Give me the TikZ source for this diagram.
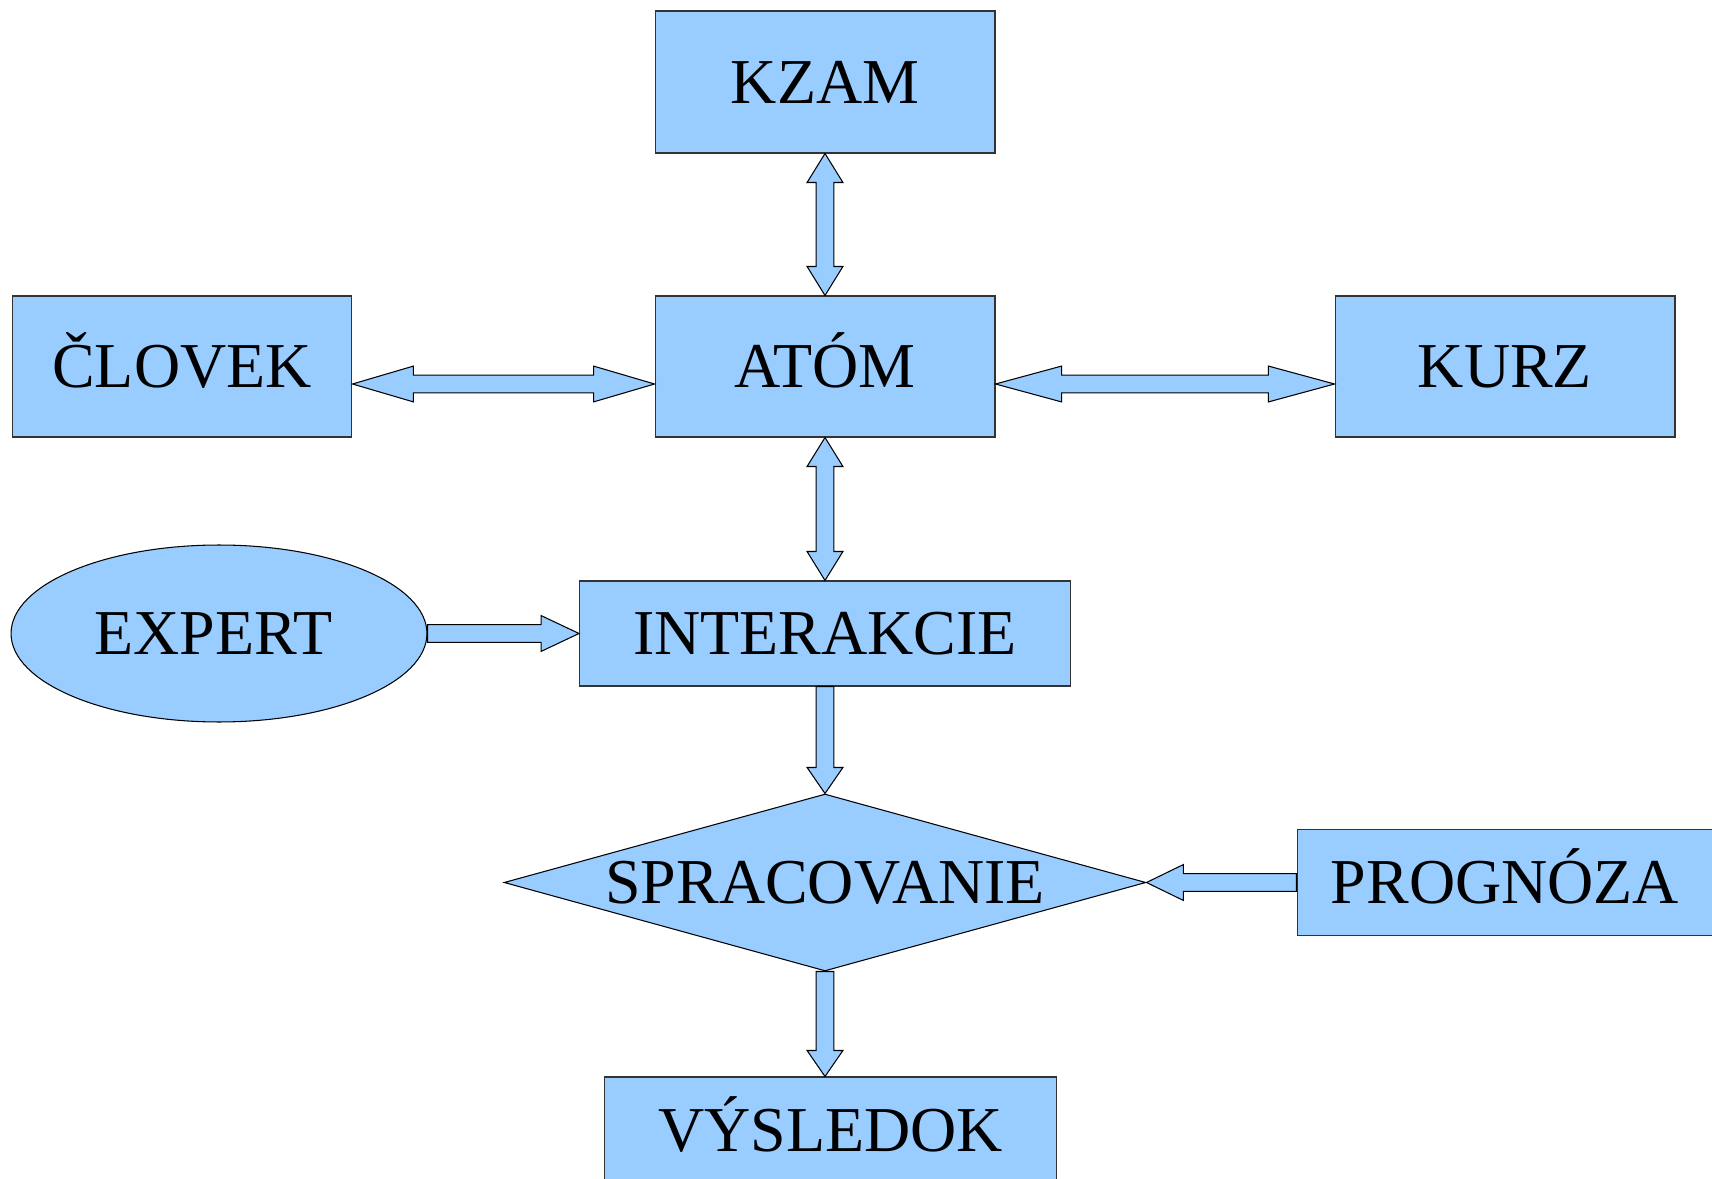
\documentclass[tikz,border=0pt]{standalone}
\usepackage{fontspec}
\setmainfont{Liberation Serif}
\usetikzlibrary{shapes.geometric,calc}

\definecolor{boxblue}{HTML}{99CCFF}
\definecolor{edgegray}{HTML}{333333}

\newcommand{\arrhalfhead}{10.2pt}
\newcommand{\arrhalfshaft}{5.1pt}

% Obojsmerná bloková šípka medzi dvoma bodmi (#3 = dĺžka hrotu)
\newcommand{\dblarrow}[3]{%
  \path[arrowbody] let \p1=(#1), \p2=(#2),
      \n1={atan2(\y2-\y1,\x2-\x1)}, \n2={veclen(\x2-\x1,\y2-\y1)} in
    [shift={(\p1)}, rotate=\n1]
    (0pt,0pt) -- (#3,\arrhalfhead) -- (#3,\arrhalfshaft)
    -- ({\n2*1pt-#3},\arrhalfshaft) -- ({\n2*1pt-#3},\arrhalfhead) -- ({\n2*1pt},0pt)
    -- ({\n2*1pt-#3},-\arrhalfhead) -- ({\n2*1pt-#3},-\arrhalfshaft)
    -- (#3,-\arrhalfshaft) -- (#3,-\arrhalfhead) -- cycle;
}

% Jednosmerná bloková šípka
\newcommand{\sglarrow}[3]{%
  \path[arrowbody] let \p1=(#1), \p2=(#2),
      \n1={atan2(\y2-\y1,\x2-\x1)}, \n2={veclen(\x2-\x1,\y2-\y1)} in
    [shift={(\p1)}, rotate=\n1]
    (0pt,\arrhalfshaft) -- ({\n2*1pt-#3},\arrhalfshaft) -- ({\n2*1pt-#3},\arrhalfhead)
    -- ({\n2*1pt},0pt) -- ({\n2*1pt-#3},-\arrhalfhead) -- ({\n2*1pt-#3},-\arrhalfshaft)
    -- (0pt,-\arrhalfshaft) -- cycle;
}

\begin{document}
\begin{tikzpicture}[
  x=0.02cm, y=-0.02cm,
  font=\fontsize{36.4}{44}\selectfont,
  block/.style={rectangle, draw=edgegray, fill=boxblue, line width=0.6pt, inner sep=0pt, text height=24pt, text depth=0pt},
  oval/.style={ellipse, draw=black, fill=boxblue, line width=0.6pt, inner sep=0pt, text height=24pt, text depth=0pt},
  decision/.style={diamond, aspect=3.63, draw=black, fill=boxblue, line width=0.6pt, inner sep=0pt, text height=24pt, text depth=0pt},
  arrowbody/.style={draw=black, fill=boxblue, line width=0.6pt, line join=miter}
]
  \useasboundingbox (0,0) rectangle (1712,1179);

  % Horná časť: KZAM, ČLOVEK, ATÓM, KURZ
  \node[block, minimum width=6.8cm, minimum height=2.84cm] (kzam) at (825,82) {KZAM};
  \node[block, minimum width=6.8cm, minimum height=2.82cm] (clovek) at (182,366.5) {ČLOVEK};
  \node[block, minimum width=6.8cm, minimum height=2.82cm] (atom) at (825,366.5) {ATÓM};
  \node[block, minimum width=6.8cm, minimum height=2.82cm] (kurz) at (1505,366.5) {KURZ};

  % Stredná časť: EXPERT, INTERAKCIE
  \node[oval, minimum width=8.32cm, minimum height=3.54cm] (expert) at (219,633.5) {EXPERT\kern6.3pt};
  \node[block, minimum width=9.82cm, minimum height=2.1cm] (interakcie) at (825,633.5) {INTERAKCIE};

  % Spodná časť: SPRACOVANIE, PROGNÓZA, VÝSLEDOK
  \node[decision, minimum width=12.84cm, minimum height=3.54cm] (spracovanie) at (825,882.5) {SPRACOVANIE};
  \node[block, minimum width=8.32cm, minimum height=2.12cm] (prognoza) at (1505,882.5) {PROGNÓZA};
  \node[block, minimum width=9.06cm, minimum height=2.12cm] (vysledok) at (830.5,1130) {VÝSLEDOK};

  % Obojsmerné šípky
  \dblarrow{kzam.south}{atom.north}{16.5pt}
  \dblarrow{$(clovek.east)+(0,17.5)$}{$(atom.west)+(0,17.5)$}{34.7pt}
  \dblarrow{$(atom.east)+(0,17.5)$}{$(kurz.west)+(0,17.5)$}{37.6pt}
  \dblarrow{atom.south}{interakcie.north}{16.5pt}

  % Jednosmerné šípky
  \sglarrow{expert.east}{interakcie.west}{21.6pt}
  \sglarrow{interakcie.south}{spracovanie.north}{14.8pt}
  \sglarrow{prognoza.west}{spracovanie.east}{21pt}
  \sglarrow{spracovanie.south}{spracovanie.south |- vysledok.north}{14.8pt}
\end{tikzpicture}
\end{document}
